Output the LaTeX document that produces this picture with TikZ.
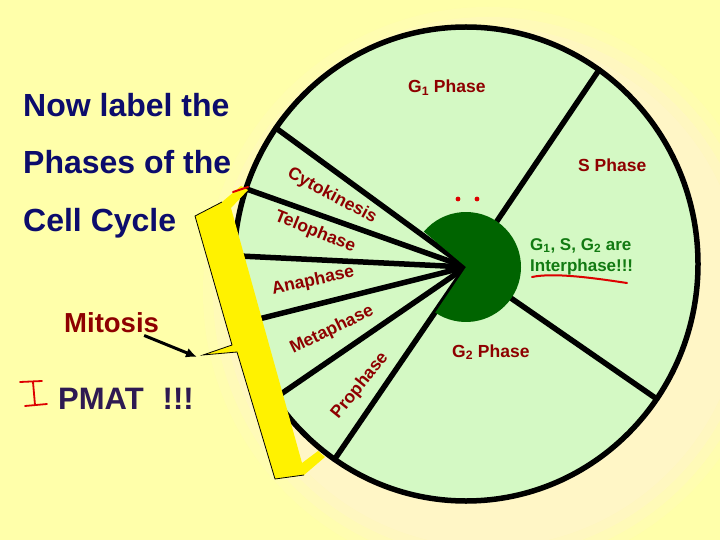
\documentclass[tikz,border=0pt]{standalone}
\usepackage{fontspec}
\setmainfont{Liberation Sans}
\usepackage{xcolor}
\usepackage{tikz}
\usetikzlibrary{calc,arrows.meta}

\definecolor{slidebg}{HTML}{FFFFAA}
\definecolor{glow}{HTML}{FFF6C8}
\definecolor{cellgreen}{HTML}{D4F9C4}
\definecolor{pacgreen}{HTML}{006400}
\definecolor{phasered}{HTML}{8E0000}
\definecolor{titleblue}{HTML}{0C0C6C}
\definecolor{intergreen}{HTML}{127A12}
\definecolor{pmatpurple}{HTML}{2E1A52}
\definecolor{penred}{HTML}{DD0000}

\tikzset{
  titleline/.style={text=titleblue, font=\bfseries\fontsize{32}{36}\selectfont, anchor=base west, inner sep=0pt},
  phaselabel/.style={text=phasered, font=\bfseries\fontsize{17.5}{20}\selectfont, inner sep=0pt},
  interlabel/.style={text=intergreen, font=\bfseries\fontsize{17}{20}\selectfont, anchor=base west, inner sep=0pt},
  spoke/.style={line width=5.5pt, line cap=round},
  redpen/.style={penred, line width=2pt, line cap=round},
}

\begin{document}
\begin{tikzpicture}[x=1pt,y=-1pt]

% Slide background
\useasboundingbox (0,0) rectangle (720,540);
\fill[slidebg] (0,0) rectangle (720,540);
\foreach \r/\op in {285/0.2, 275/0.35, 265/0.55, 255/0.85}
  \fill[glow, opacity=\op] (488,292) circle[radius=\r];

% Define coordinates for the cell cycle wheel
\coordinate (O) at (466,264);
\coordinate (V) at (466,267);
\foreach \ang/\name in {-55/gs, -145/gc, -161.5/ct, -178/ta, -194.5/am, -214.5/mp, -235.5/pg, -325.3/sg}
  \coordinate (\name) at ($(O)+(\ang:232 and 237)$);

% Draw the wheel and its spokes
\fill[cellgreen] (O) ellipse[x radius=232, y radius=237];
\foreach \name in {gs,gc,ct,ta,am,mp,pg,sg}
  \draw[spoke] (V) -- (\name);
\draw[line width=5.5pt] (O) ellipse[x radius=232, y radius=237];
\fill[pacgreen] (V) -- ++(-140:55) arc[start angle=-140, end angle=124, radius=55] -- cycle;

% Interphase labels
\node[phaselabel, anchor=base west] (g1) at (408,93) {G\textsubscript{1} Phase};
\node[phaselabel, anchor=base west] (sph) at (578,172) {S Phase};
\node[phaselabel, anchor=base west] (g2) at (452,357) {G\textsubscript{2} Phase};
\node[interlabel] (inter1) at (530,250) {G\textsubscript{1}, S, G\textsubscript{2} are};
\node[interlabel] (inter2) at (530,271) {Interphase!!!};

% Mitosis labels along the wedges
\node[phaselabel, rotate=-28] (cyto) at (332,196) {Cytokinesis};
\node[phaselabel, rotate=-22] (telo) at (315,232) {Telophase};
\node[phaselabel, rotate=12] (ana) at (313,281) {Anaphase};
\node[phaselabel, rotate=26] (meta) at (332,330) {Metaphase};
\node[phaselabel, rotate=51] (pro) at (360,386) {Prophase};

% Yellow bracket
\coordinate (A) at (195,216);
\coordinate (B) at (222,202);
\coordinate (C) at (232,345);
\coordinate (bracetip) at (203,355);
\coordinate (D) at (237,352);
\coordinate (E) at (275,479);
\coordinate (F) at (304,475);
\fill[yellow] (A) -- (B) -- (241,186) -- (248,190) -- (231,208)
  -- (302,463) -- (318,451) -- (325,457) -- (F) -- (E) -- (D) -- (bracetip) -- (C) -- cycle;
\draw[line width=0.8pt] (B) -- (A) -- (C) -- (bracetip) -- (D) -- (E) -- (F);

% Title text
\node[titleline] (line1) at (23,117) {Now label the};
\node[titleline] (line2) at (23,174) {Phases of the};
\node[titleline] (line3) at (23,231) {Cell Cycle};
\node[anchor=base west, inner sep=0pt, text=phasered, font=\bfseries\fontsize{27.5}{30}\selectfont] (mitosis) at (64,332) {Mitosis};
\node[anchor=base west, inner sep=0pt, text=pmatpurple, font=\bfseries\fontsize{31}{34}\selectfont] (pmat) at (58,409) {PMAT\hspace{19pt}!!!};

% Arrow to the bracket
\draw[line width=3pt, -{Latex[length=11pt,width=10pt]}] ($(mitosis.south east)+(-15,3)$) -- ($(bracetip)+(-6,2)$);

% Red pen marks
\draw[redpen] (233,192) -- (248,187);
\draw[redpen] (532,277) .. controls (555,272) and (600,279) .. (627,283);
\fill[penred] (458,199) circle[radius=2.4];
\fill[penred] (477,199) circle[radius=2.4];
\draw[redpen, line width=1.8pt] (20,382) -- (42,381);
\draw[redpen, line width=1.8pt] (33,382) -- (35,405);
\draw[redpen, line width=1.8pt] (25,406) -- (47,404);

\end{tikzpicture}
\end{document}
